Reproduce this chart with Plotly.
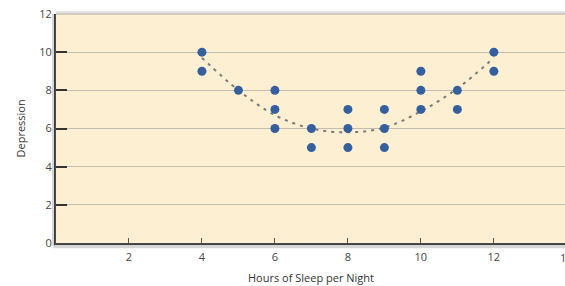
import plotly.graph_objects as go

# Data
sleep_hours = [4, 4, 5, 6, 6, 6, 7, 7, 8, 8, 8, 9, 9, 9, 10, 10, 10, 11, 11, 12, 12]
depression = [10, 9, 8, 8, 7, 6, 6, 5, 7, 6, 5, 7, 6, 5, 9, 8, 7, 8, 7, 10, 9]

# Dotted trend curve
curve_x = [4, 5, 6, 7, 8, 9, 10, 11, 12]
curve_y = [9.7, 8.0, 6.7, 6.0, 5.8, 6.05, 6.9, 8.1, 9.7]

x_ticks = [2, 4, 6, 8, 10, 12]
x_cut_tick = 14          # last tick, cut by the right edge in the reference
y_ticks = [0, 2, 4, 6, 8, 10, 12]

X_MAX = 13.95
FONT = "Open Sans"

fig = go.Figure()
fig.add_trace(go.Scatter(
    x=curve_x, y=curve_y, mode="lines", line_shape="spline",
    line=dict(color="#7a7a7a", width=2, dash="3px,5px"),
    hoverinfo="skip", showlegend=False,
))
fig.add_trace(go.Scatter(
    x=sleep_hours, y=depression, mode="markers",
    marker=dict(color="#365f9e", size=9),
    showlegend=False,
))

# frame details: top border and axis shadows
fig.add_shape(type="line", xref="paper", yref="paper", x0=0, x1=1, y0=1.006, y1=1.006,
              line=dict(color="rgba(0,0,0,0.12)", width=3), layer="above")
fig.add_shape(type="line", xref="paper", yref="paper", x0=0, x1=1, y0=1, y1=1,
              line=dict(color="#b9b4aa", width=1), layer="above")
fig.add_shape(type="line", xref="paper", yref="paper", x0=-0.005, x1=-0.005, y0=-0.012, y1=1,
              line=dict(color="rgba(0,0,0,0.16)", width=3), layer="above")
fig.add_shape(type="line", xref="paper", yref="paper", x0=-0.005, x1=1, y0=-0.014, y1=-0.014,
              line=dict(color="rgba(0,0,0,0.16)", width=4), layer="above")

# partially visible last tick label
fig.add_annotation(text=str(x_cut_tick), xref="paper", yref="paper",
                   x=x_cut_tick / X_MAX, y=0, yshift=-14, yanchor="middle", xanchor="center",
                   showarrow=False, font=dict(size=11, color="#444"))

fig.add_annotation(text="Hours of Sleep per Night", xref="paper", yref="paper",
                   x=0.5, y=0, yshift=-34, yanchor="middle", showarrow=False,
                   font=dict(size=11, color="#333"))
fig.add_annotation(text="Depression", xref="paper", yref="paper",
                   x=0, xshift=-36, y=0.5, textangle=-90, xanchor="center", showarrow=False,
                   font=dict(size=11, color="#333"))

fig.update_layout(
    width=565, height=286,
    margin=dict(l=56, r=0, t=14, b=43),
    paper_bgcolor="white",
    plot_bgcolor="#fdf0d2",
    font=dict(family=FONT, size=11, color="#444"),
    xaxis=dict(
        range=[0, X_MAX], tickvals=x_ticks, ticktext=[str(v) for v in x_ticks],
        showgrid=False, zeroline=False, automargin=False,
        showline=True, linecolor="#4a4a4a", linewidth=2,
        ticks="inside", ticklen=5, tickcolor="#555", tickwidth=1,
        ticklabelstandoff=3,
        fixedrange=True,
    ),
    yaxis=dict(
        range=[0, 12], tickvals=y_ticks, ticktext=[str(v) for v in y_ticks],
        showgrid=True, gridcolor="#c4beb1", gridwidth=1, zeroline=False, automargin=False,
        showline=True, linecolor="#4a4a4a", linewidth=2,
        ticks="inside", ticklen=11, tickcolor="#333", tickwidth=1.5,
        fixedrange=True,
    ),
)

fig.write_html(
    "out.html",
    config={"displayModeBar": False},
    post_script="document.body.style.margin='0';document.body.style.overflow='hidden';",
)
